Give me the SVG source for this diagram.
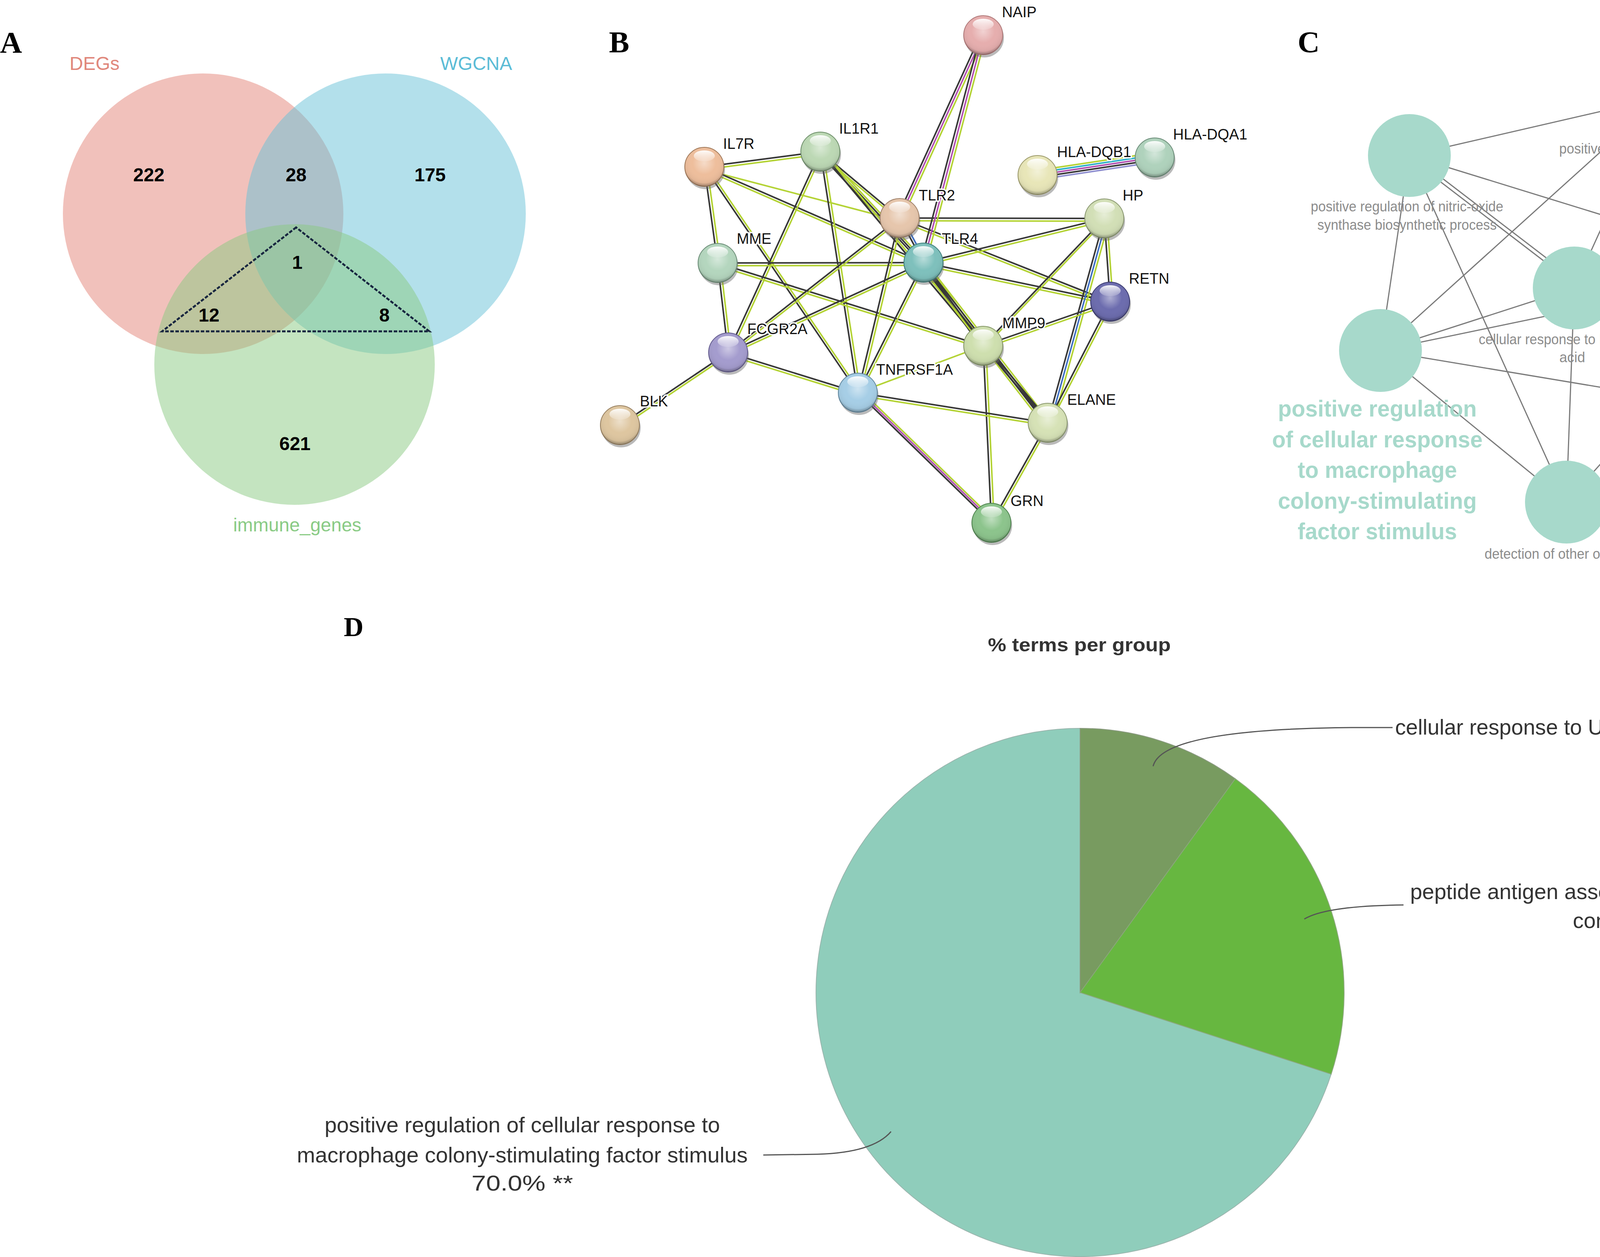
<svg xmlns="http://www.w3.org/2000/svg" width="5433" height="3217" viewBox="0 0 5433 3217">
<style>
.pl{font-family:"Liberation Serif",serif;font-weight:bold;font-size:78px;fill:#000}
.vn{font-family:"Liberation Sans",Arial,sans-serif;font-weight:bold;font-size:48px;fill:#000;text-anchor:middle}
.vl{font-family:"Liberation Sans",Arial,sans-serif;font-size:48px;text-anchor:middle}
.bl{font-family:"Liberation Sans",Arial,sans-serif;font-size:38px;fill:#111;stroke:#fff;stroke-width:7;paint-order:stroke;stroke-linejoin:round}
.k{stroke:#383838;stroke-width:4;fill:none}
.g{stroke:#B4D335;stroke-width:4;fill:none}
.p{stroke:#B050B0;stroke-width:4;fill:none}
.u{stroke:#4070C0;stroke-width:4;fill:none}
.c{stroke:#30B0C8;stroke-width:4;fill:none}
.lv{stroke:#9090D0;stroke-width:4;fill:none}
.ce{stroke:#7a7a7a;stroke-width:3;fill:none}
.cs{font-family:"Liberation Sans Narrow","Liberation Sans",sans-serif;font-size:36px;fill:#8c8c8c;text-anchor:middle}
.cb{font-family:"Liberation Sans Narrow","Liberation Sans",sans-serif;font-weight:bold;font-size:60px;text-anchor:middle}
.tn{fill:#A7D9CB}
.dl{font-family:"Liberation Sans",Arial,sans-serif;font-size:55px;fill:#333;text-anchor:middle}
.ld{stroke:#555;stroke-width:3;fill:none}
</style>
<defs>
<radialGradient id="gloss" cx="0.5" cy="0.4" r="0.6">
<stop offset="0" stop-color="#fff" stop-opacity="0.45"/>
<stop offset="0.5" stop-color="#fff" stop-opacity="0"/>
<stop offset="0.85" stop-color="#000" stop-opacity="0.05"/>
<stop offset="1" stop-color="#000" stop-opacity="0.35"/>
</radialGradient>
<linearGradient id="hl" x1="0" y1="0" x2="0" y2="1">
<stop offset="0" stop-color="#fff" stop-opacity="0.95"/>
<stop offset="1" stop-color="#fff" stop-opacity="0.15"/>
</linearGradient>
<g id="ballfx">
<circle r="50" fill="url(#gloss)"/>
<ellipse cy="-28" rx="27" ry="14" fill="url(#hl)"/>
</g>
<marker id="arr" viewBox="0 0 46 26" refX="46" refY="13" markerWidth="46" markerHeight="26" markerUnits="userSpaceOnUse" orient="auto">
<path d="M0,0 L46,13 L0,26 L10,13 Z" fill="#000"/>
</marker>
</defs>
<rect width="5433" height="3217" fill="#fff"/>

<!-- Panel labels -->
<text class="pl" x="0" y="135">A</text>
<text class="pl" x="1559" y="134">B</text>
<text class="pl" x="3322" y="134">C</text>
<text class="pl" x="880" y="1628" style="font-size:70px">D</text>

<!-- Panel A Venn -->
<g id="venn">
<g id="a-degs"><circle cx="520" cy="547" r="359" fill="#E38377" fill-opacity="0.5"/><text class="vl" x="242" y="179" fill="#E0877B">DEGs</text></g>
<g id="a-wgcna"><circle cx="987" cy="547" r="359" fill="#67C1D7" fill-opacity="0.5"/><text class="vl" x="1219" y="179" fill="#5BBCD6">WGCNA</text></g>
<g id="a-immune"><circle cx="754" cy="933" r="359" fill="#89C981" fill-opacity="0.5"/><text class="vl" x="761" y="1360" fill="#8ACB85">immune_genes</text></g>
<polygon points="758,582 415,848 1099,848" fill="none" stroke="#17253f" stroke-width="5" stroke-dasharray="9 4"/>
<text class="vn" x="381" y="464">222</text>
<text class="vn" x="758" y="464">28</text>
<text class="vn" x="1101" y="464">175</text>
<text class="vn" x="761" y="688">1</text>
<text class="vn" x="535" y="823">12</text>
<text class="vn" x="984" y="823">8</text>
<text class="vn" x="755" y="1152">621</text>
</g>

<!-- Panel B edges -->
<g id="b-edges">
<g><line class="k" x1="1803" y1="427" x2="2100" y2="388"/><line class="g" x1="1803" y1="434" x2="2100" y2="395"/></g>
<g><line class="k" x1="1803" y1="427" x2="1837" y2="673"/><line class="g" x1="1810" y1="427" x2="1844" y2="673"/></g>
<g><line class="g" x1="1803" y1="434" x2="2303" y2="565"/></g>
<g><line class="k" x1="1803" y1="427" x2="2364" y2="672"/><line class="g" x1="1803" y1="434" x2="2364" y2="679"/></g>
<g><line class="k" x1="1803" y1="427" x2="2196" y2="1005"/><line class="g" x1="1810" y1="427" x2="2203" y2="1005"/></g>
<g><line class="k" x1="2100" y1="388" x2="2303" y2="558"/><line class="g" x1="2100" y1="395" x2="2303" y2="565"/></g>
<g><line class="k" x1="2093" y1="388" x2="2357" y2="672"/><line class="k" x1="2100" y1="388" x2="2364" y2="672"/><line class="g" x1="2107" y1="388" x2="2371" y2="672"/></g>
<g><line class="k" x1="2100" y1="388" x2="2517" y2="885"/><line class="g" x1="2107" y1="388" x2="2524" y2="885"/></g>
<g><line class="k" x1="2100" y1="388" x2="2682" y2="1082"/><line class="g" x1="2107" y1="388" x2="2689" y2="1082"/></g>
<g><line class="k" x1="2100" y1="388" x2="2196" y2="1005"/><line class="g" x1="2107" y1="388" x2="2203" y2="1005"/></g>
<g><line class="k" x1="2100" y1="388" x2="1864" y2="902"/><line class="g" x1="2107" y1="388" x2="1871" y2="902"/></g>
<g><line class="k" x1="1837" y1="673" x2="2364" y2="672"/><line class="g" x1="1837" y1="680" x2="2364" y2="679"/></g>
<g><line class="k" x1="1837" y1="673" x2="1864" y2="902"/><line class="g" x1="1844" y1="673" x2="1871" y2="902"/></g>
<g><line class="k" x1="1837" y1="673" x2="2517" y2="885"/><line class="g" x1="1837" y1="680" x2="2517" y2="892"/></g>
<g><line class="k" x1="2303" y1="558" x2="2827" y2="559"/><line class="g" x1="2303" y1="565" x2="2827" y2="566"/></g>
<g><line class="k" x1="2303" y1="558" x2="1864" y2="902"/><line class="g" x1="2303" y1="565" x2="1864" y2="909"/></g>
<g><line class="k" x1="2303" y1="558" x2="2196" y2="1005"/><line class="g" x1="2310" y1="558" x2="2203" y2="1005"/></g>
<g><line class="k" x1="2303" y1="558" x2="2842" y2="772"/><line class="g" x1="2303" y1="565" x2="2842" y2="779"/></g>
<g><line class="k" x1="2303" y1="558" x2="2364" y2="672"/><line class="u" x1="2310" y1="558" x2="2371" y2="672"/></g>
<g><line class="k" x1="2364" y1="672" x2="2827" y2="559"/><line class="g" x1="2364" y1="679" x2="2827" y2="566"/></g>
<g><line class="k" x1="2364" y1="672" x2="2842" y2="772"/><line class="g" x1="2364" y1="679" x2="2842" y2="779"/></g>
<g><line class="k" x1="2364" y1="672" x2="1864" y2="902"/><line class="g" x1="2364" y1="679" x2="1864" y2="909"/></g>
<g><line class="k" x1="2364" y1="672" x2="2196" y2="1005"/><line class="g" x1="2371" y1="672" x2="2203" y2="1005"/></g>
<g><line class="k" x1="2357" y1="672" x2="2510" y2="885"/><line class="k" x1="2364" y1="672" x2="2517" y2="885"/><line class="g" x1="2371" y1="672" x2="2524" y2="885"/></g>
<g><line class="g" x1="2350" y1="672" x2="2668" y2="1082"/><line class="k" x1="2357" y1="672" x2="2675" y2="1082"/><line class="k" x1="2364" y1="672" x2="2682" y2="1082"/><line class="g" x1="2371" y1="672" x2="2689" y2="1082"/></g>
<g><line class="k" x1="2827" y1="559" x2="2517" y2="885"/><line class="g" x1="2834" y1="559" x2="2524" y2="885"/></g>
<g><line class="k" x1="2827" y1="559" x2="2842" y2="772"/><line class="g" x1="2834" y1="559" x2="2849" y2="772"/></g>
<g><line class="k" x1="2827" y1="559" x2="2682" y2="1082"/><line class="u" x1="2834" y1="559" x2="2689" y2="1082"/><line class="g" x1="2841" y1="559" x2="2696" y2="1082"/></g>
<g><line class="k" x1="2842" y1="772" x2="2517" y2="885"/><line class="g" x1="2842" y1="779" x2="2517" y2="892"/></g>
<g><line class="k" x1="2842" y1="772" x2="2682" y2="1082"/><line class="g" x1="2849" y1="772" x2="2689" y2="1082"/></g>
<g><line class="k" x1="1864" y1="902" x2="1587" y2="1088"/><line class="g" x1="1864" y1="909" x2="1587" y2="1095"/></g>
<g><line class="k" x1="1864" y1="902" x2="2196" y2="1005"/><line class="g" x1="1864" y1="909" x2="2196" y2="1012"/></g>
<g><line class="g" x1="2517" y1="885" x2="2196" y2="1005"/></g>
<g><line class="k" x1="2517" y1="885" x2="2682" y2="1082"/><line class="k" x1="2524" y1="885" x2="2689" y2="1082"/></g>
<g><line class="k" x1="2517" y1="885" x2="2538" y2="1338"/><line class="g" x1="2524" y1="885" x2="2545" y2="1338"/></g>
<g><line class="k" x1="2196" y1="1005" x2="2682" y2="1082"/><line class="g" x1="2196" y1="1012" x2="2682" y2="1089"/></g>
<g><line class="k" x1="2196" y1="1005" x2="2538" y2="1338"/><line class="p" x1="2203" y1="1005" x2="2545" y2="1338"/><line class="g" x1="2210" y1="1005" x2="2552" y2="1338"/></g>
<g><line class="k" x1="2682" y1="1082" x2="2538" y2="1338"/><line class="g" x1="2689" y1="1082" x2="2545" y2="1338"/></g>
<g><line class="k" x1="2510" y1="90" x2="2296" y2="558"/><line class="p" x1="2517" y1="90" x2="2303" y2="558"/><line class="g" x1="2524" y1="90" x2="2310" y2="558"/></g>
<g><line class="k" x1="2510" y1="90" x2="2357" y2="672"/><line class="p" x1="2517" y1="90" x2="2364" y2="672"/><line class="g" x1="2524" y1="90" x2="2371" y2="672"/></g>
<g><line class="g" x1="2656" y1="436" x2="2956" y2="391"/><line class="c" x1="2656" y1="442" x2="2956" y2="397"/><line class="p" x1="2656" y1="448" x2="2956" y2="403"/><line class="k" x1="2656" y1="454" x2="2956" y2="409"/><line class="lv" x1="2656" y1="460" x2="2956" y2="415"/></g>
</g>

<!-- Panel B nodes -->
<g id="b-nodes">
<g id="b-naip" transform="translate(2517,90)"><circle cx="3" cy="7" r="50" fill="#666" opacity="0.45"/><circle r="50" fill="#E6AEAE" stroke="#B07878" stroke-width="2"/><use href="#ballfx"/><text class="bl" x="48" y="-46">NAIP</text></g>
<g id="b-il1r1" transform="translate(2100,388)"><circle cx="3" cy="7" r="50" fill="#666" opacity="0.45"/><circle r="50" fill="#BCD8B4" stroke="#6E906A" stroke-width="2"/><use href="#ballfx"/><text class="bl" x="48" y="-46">IL1R1</text></g>
<g id="b-il7r" transform="translate(1803,427)"><circle cx="3" cy="7" r="50" fill="#666" opacity="0.45"/><circle r="50" fill="#EEBE9C" stroke="#A07858" stroke-width="2"/><use href="#ballfx"/><text class="bl" x="48" y="-46">IL7R</text></g>
<g id="b-hladqb1" transform="translate(2656,448)"><circle cx="3" cy="7" r="50" fill="#666" opacity="0.45"/><circle r="50" fill="#E8E6B8" stroke="#9C9A6A" stroke-width="2"/><use href="#ballfx"/><text class="bl" x="50" y="-46">HLA-DQB1</text></g>
<g id="b-hladqa1" transform="translate(2956,403)"><circle cx="3" cy="7" r="50" fill="#666" opacity="0.45"/><circle r="50" fill="#AFD2BC" stroke="#6A8C78" stroke-width="2"/><use href="#ballfx"/><text class="bl" x="47" y="-46">HLA-DQA1</text></g>
<g id="b-tlr2" transform="translate(2303,558)"><circle cx="3" cy="7" r="50" fill="#666" opacity="0.45"/><circle r="50" fill="#E6C6AC" stroke="#A08068" stroke-width="2"/><use href="#ballfx"/><text class="bl" x="49" y="-45">TLR2</text></g>
<g id="b-hp" transform="translate(2827,559)"><circle cx="3" cy="7" r="50" fill="#666" opacity="0.45"/><circle r="50" fill="#D2DFB6" stroke="#8A9870" stroke-width="2"/><use href="#ballfx"/><text class="bl" x="47" y="-46">HP</text></g>
<g id="b-mme" transform="translate(1837,673)"><circle cx="3" cy="7" r="50" fill="#666" opacity="0.45"/><circle r="50" fill="#B4D6BE" stroke="#6C8E78" stroke-width="2"/><use href="#ballfx"/><text class="bl" x="49" y="-49">MME</text></g>
<g id="b-tlr4" transform="translate(2364,672)"><circle cx="3" cy="7" r="50" fill="#666" opacity="0.45"/><circle r="50" fill="#7EC0BC" stroke="#3E807C" stroke-width="2"/><use href="#ballfx"/><text class="bl" x="47" y="-48">TLR4</text></g>
<g id="b-retn" transform="translate(2842,772)"><circle cx="3" cy="7" r="50" fill="#666" opacity="0.45"/><circle r="50" fill="#6C6CAE" stroke="#3A3A70" stroke-width="2"/><use href="#ballfx"/><text class="bl" x="48" y="-46">RETN</text></g>
<g id="b-fcgr2a" transform="translate(1864,902)"><circle cx="3" cy="7" r="50" fill="#666" opacity="0.45"/><circle r="50" fill="#A49CCE" stroke="#625A8E" stroke-width="2"/><use href="#ballfx"/><text class="bl" x="49" y="-47">FCGR2A</text></g>
<g id="b-mmp9" transform="translate(2517,885)"><circle cx="3" cy="7" r="50" fill="#666" opacity="0.45"/><circle r="50" fill="#CEDFAE" stroke="#869868" stroke-width="2"/><use href="#ballfx"/><text class="bl" x="49" y="-45">MMP9</text></g>
<g id="b-tnfrsf1a" transform="translate(2196,1005)"><circle cx="3" cy="7" r="50" fill="#666" opacity="0.45"/><circle r="50" fill="#A6CEE6" stroke="#6288A0" stroke-width="2"/><use href="#ballfx"/><text class="bl" x="47" y="-46">TNFRSF1A</text></g>
<g id="b-blk" transform="translate(1587,1088)"><circle cx="3" cy="7" r="50" fill="#666" opacity="0.45"/><circle r="50" fill="#DEC6A0" stroke="#988060" stroke-width="2"/><use href="#ballfx"/><text class="bl" x="51" y="-48">BLK</text></g>
<g id="b-elane" transform="translate(2682,1082)"><circle cx="3" cy="7" r="50" fill="#666" opacity="0.45"/><circle r="50" fill="#D6E2B6" stroke="#8C9A70" stroke-width="2"/><use href="#ballfx"/><text class="bl" x="50" y="-46">ELANE</text></g>
<g id="b-grn" transform="translate(2538,1338)"><circle cx="3" cy="7" r="50" fill="#666" opacity="0.45"/><circle r="50" fill="#8CC48C" stroke="#4E844E" stroke-width="2"/><use href="#ballfx"/><text class="bl" x="49" y="-43">GRN</text></g>
</g>

<!-- Panel C edges -->
<g id="c-edges">
<line class="ce" x1="3608" y1="398" x2="4251" y2="250"/>
<line class="ce" x1="3608" y1="398" x2="4545" y2="687"/>
<line class="ce" x1="3605" y1="402" x2="4459" y2="1056"/>
<line class="ce" x1="3611" y1="394" x2="4465" y2="1048"/>
<line class="ce" x1="3608" y1="398" x2="3534" y2="897"/>
<line class="ce" x1="3608" y1="398" x2="4010" y2="1285"/>
<line class="ce" x1="4251" y1="250" x2="3534" y2="897"/>
<line class="ce" x1="4251" y1="250" x2="4030" y2="737"/>
<line class="ce" x1="4251" y1="250" x2="4462" y2="1052"/>
<line class="ce" x1="4251" y1="250" x2="4545" y2="687"/>
<line class="ce" x1="4030" y1="737" x2="4545" y2="687"/>
<line class="ce" x1="4030" y1="737" x2="3534" y2="897"/>
<line class="ce" x1="4030" y1="737" x2="4010" y2="1285"/>
<line class="ce" x1="4545" y1="687" x2="3534" y2="897"/>
<line class="ce" x1="4545" y1="687" x2="4462" y2="1052"/>
<line class="ce" x1="4545" y1="687" x2="4010" y2="1285"/>
<line class="ce" x1="3534" y1="897" x2="4010" y2="1285"/>
<line class="ce" x1="4462" y1="1052" x2="4010" y2="1285"/>
<line class="ce" x1="4748" y1="305" x2="5172" y2="413"/>
<line class="ce" x1="3534" y1="897" x2="4378" y2="1038" marker-end="url(#arr)"/>
</g>

<!-- Panel C nodes -->
<g id="c-nodes">
<g id="c-nitric"><circle class="tn" cx="3608" cy="398" r="106"/>
<text class="cs" x="3602" y="541" textLength="493" lengthAdjust="spacingAndGlyphs">positive regulation of nitric-oxide</text>
<text class="cs" x="3602" y="588" textLength="459" lengthAdjust="spacingAndGlyphs">synthase biosynthetic process</text></g>
<g id="c-cytokine"><circle class="tn" cx="4251" cy="250" r="106"/>
<text class="cs" x="4245" y="393" textLength="507" lengthAdjust="spacingAndGlyphs">positive regulation of response to</text>
<text class="cs" x="4245" y="440" textLength="262" lengthAdjust="spacingAndGlyphs">cytokine stimulus</text></g>
<g id="c-lipo"><circle class="tn" cx="4030" cy="737" r="106"/>
<text class="cs" x="4025" y="881" textLength="479" lengthAdjust="spacingAndGlyphs">cellular response to lipoteichoic</text>
<text class="cs" x="4025" y="927">acid</text></g>
<g id="c-matrix"><circle class="tn" cx="4545" cy="687" r="106"/>
<text class="cs" x="4542" y="832" textLength="419" lengthAdjust="spacingAndGlyphs">positive regulation of matrix</text>
<text class="cs" x="4542" y="878" textLength="411" lengthAdjust="spacingAndGlyphs">metallopeptidase secretion</text></g>
<g id="c-posreg"><circle class="tn" cx="3534" cy="897" r="106"/>
<text class="cb" x="3526" y="1066" fill="#A7D9CB" textLength="509" lengthAdjust="spacingAndGlyphs">positive regulation</text>
<text class="cb" x="3526" y="1145" fill="#A7D9CB" textLength="539" lengthAdjust="spacingAndGlyphs">of cellular response</text>
<text class="cb" x="3526" y="1223" fill="#A7D9CB" textLength="408" lengthAdjust="spacingAndGlyphs">to macrophage</text>
<text class="cb" x="3526" y="1302" fill="#A7D9CB" textLength="509" lengthAdjust="spacingAndGlyphs">colony-stimulating</text>
<text class="cb" x="3526" y="1380" fill="#A7D9CB" textLength="408" lengthAdjust="spacingAndGlyphs">factor stimulus</text></g>
<g id="c-mcsf"><circle class="tn" cx="4462" cy="1052" r="85"/>
<text class="cs" x="4458" y="1175" textLength="501" lengthAdjust="spacingAndGlyphs">cellular response to macrophage</text>
<text class="cs" x="4458" y="1222" textLength="508" lengthAdjust="spacingAndGlyphs">colony-stimulating factor stimulus</text></g>
<g id="c-detection"><circle class="tn" cx="4010" cy="1285" r="106"/>
<text class="cs" x="4010" y="1430" textLength="419" lengthAdjust="spacingAndGlyphs">detection of other organism</text></g>
<g id="c-antigen"><circle cx="4748" cy="305" r="85" fill="#8DC767"/>
<text class="cs" x="4742" y="429" textLength="355" lengthAdjust="spacingAndGlyphs">antigen processing and</text>
<text class="cs" x="4742" y="475" textLength="529" lengthAdjust="spacingAndGlyphs">presentation of exogenous peptide</text>
<text class="cs" x="4742" y="522" textLength="369" lengthAdjust="spacingAndGlyphs">antigen via MHC class II</text></g>
<g id="c-peptide"><circle cx="5172" cy="413" r="85" fill="#88C660"/>
<text class="cb" x="5164" y="560" fill="#82C35C" textLength="425" lengthAdjust="spacingAndGlyphs">peptide antigen</text>
<text class="cb" x="5164" y="639" fill="#82C35C" textLength="537" lengthAdjust="spacingAndGlyphs">assembly with MHC</text>
<text class="cb" x="5164" y="717" fill="#82C35C" textLength="404" lengthAdjust="spacingAndGlyphs">class II protein</text>
<text class="cb" x="5164" y="796" fill="#82C35C" textLength="234" lengthAdjust="spacingAndGlyphs">complex</text></g>
<g id="c-uva"><circle cx="4916" cy="894" r="106" fill="#94B083"/>
<text class="cb" x="4907" y="1063" fill="#8AAE72" textLength="540" lengthAdjust="spacingAndGlyphs">cellular response to</text>
<text class="cb" x="4907" y="1140" fill="#8AAE72" textLength="142" lengthAdjust="spacingAndGlyphs">UV-A</text></g>
</g>

<!-- Panel D pie -->
<g id="d-pie">
<text x="2763" y="1667" style="font-family:'Liberation Sans',Arial,sans-serif;font-weight:bold;font-size:48px;fill:#333;text-anchor:middle" textLength="468" lengthAdjust="spacingAndGlyphs">% terms per group</text>
<g id="d-slice-teal"><path d="M2765,2540 L3407.9,2748.9 A676,676 0 1,1 2765,1864 Z" fill="#8FCDBB" stroke="#9ab5ad" stroke-width="2"/></g>
<g id="d-slice-uva"><path d="M2765,2540 L2765,1864 A676,676 0 0,1 3162.3,1993.1 Z" fill="#789B60" stroke="#8a9a80" stroke-width="2"/></g>
<g id="d-slice-peptide"><path d="M2765,2540 L3162.3,1993.1 A676,676 0 0,1 3407.9,2748.9 Z" fill="#67B740" stroke="#8aa87a" stroke-width="2"/></g>
<path class="ld" d="M2952,1961 Q2975,1866 3460,1862 L3565,1862"/>
<path class="ld" d="M3339,2352 Q3395,2318 3593,2316"/>
<path class="ld" d="M1954,2956 L2093,2954 Q2235,2950 2281,2896"/>
<text class="dl" x="3996" y="1880" textLength="849" lengthAdjust="spacingAndGlyphs">cellular response to UV-A 10.0% **</text>
<text class="dl" x="4239" y="2301" textLength="1258" lengthAdjust="spacingAndGlyphs">peptide antigen assembly with MHC class II protein</text>
<text class="dl" x="4245" y="2375" textLength="437" lengthAdjust="spacingAndGlyphs">complex 20.0% **</text>
<text class="dl" x="1337" y="2898" textLength="1012" lengthAdjust="spacingAndGlyphs">positive regulation of cellular response to</text>
<text class="dl" x="1337" y="2975" textLength="1154" lengthAdjust="spacingAndGlyphs">macrophage colony-stimulating factor stimulus</text>
<text class="dl" x="1337" y="3047" textLength="260" lengthAdjust="spacingAndGlyphs">70.0% **</text>
</g>
</svg>
